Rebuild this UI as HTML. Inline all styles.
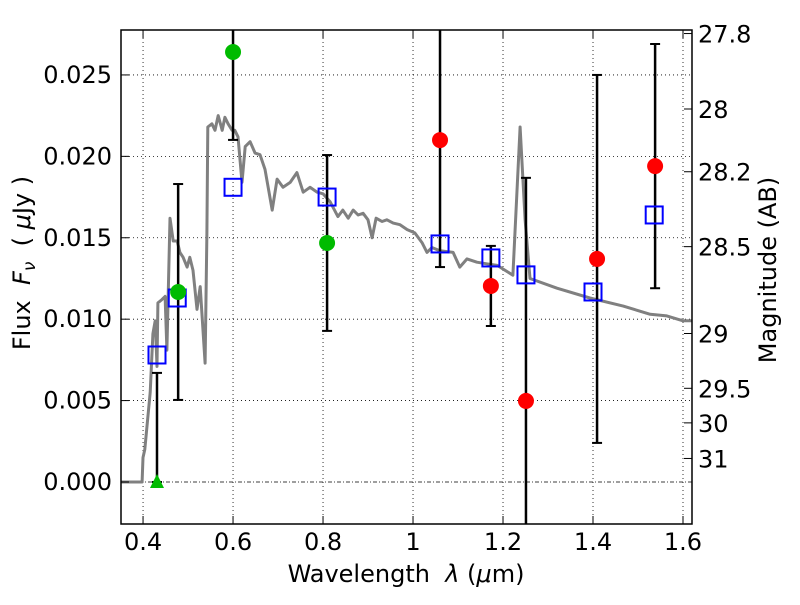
<!DOCTYPE html>
<html><head><meta charset="utf-8"><style>
body{margin:0;background:#fff}
svg{font-family:"DejaVu Sans","Liberation Sans",sans-serif}
</style></head><body>
<svg id="chart" width="800" height="600" xmlns="http://www.w3.org/2000/svg">
<defs><clipPath id="plotclip"><rect x="121" y="30" width="571" height="494"/></clipPath></defs>
</svg>
<script>
const modelLambda=[0.351,0.398,0.400,0.404,0.416,0.422,0.427,0.431,0.433,0.442,0.449,0.453,0.460,0.467,0.476,0.482,0.489,0.498,0.504,0.511,0.520,0.527,0.538,0.542,0.544,0.553,0.560,0.567,0.576,0.582,0.589,0.598,0.604,0.611,0.620,0.627,0.638,0.649,0.660,0.671,0.687,0.698,0.711,0.727,0.742,0.756,0.771,0.787,0.800,0.816,0.833,0.844,0.856,0.867,0.878,0.889,0.900,0.909,0.918,0.931,0.942,0.956,0.971,0.987,1.004,1.020,1.031,1.042,1.060,1.089,1.104,1.120,1.142,1.164,1.187,1.222,1.238,1.249,1.260,1.320,1.393,1.467,1.527,1.564,1.600,1.620];
const modelFlux=[0,0,0.0015,0.0020,0.0055,0.0091,0.0099,0.0071,0.0110,0.0112,0.0114,0.0081,0.0162,0.0148,0.0148,0.0141,0.0138,0.0132,0.0138,0.0130,0.0106,0.0120,0.0073,0.0153,0.0218,0.0220,0.0216,0.0225,0.0216,0.0224,0.0220,0.0216,0.0216,0.0212,0.0184,0.0206,0.0209,0.0202,0.0201,0.0192,0.0167,0.0186,0.0181,0.0184,0.0190,0.0178,0.0181,0.0178,0.0177,0.0172,0.0163,0.0167,0.0162,0.0167,0.0164,0.0165,0.0161,0.0150,0.0162,0.0160,0.0161,0.0159,0.0158,0.0155,0.0153,0.0147,0.0141,0.0144,0.0142,0.0141,0.0132,0.0137,0.0135,0.0134,0.0133,0.0127,0.0218,0.0161,0.0125,0.0119,0.0113,0.0108,0.0103,0.0102,0.0099,0.0099];
const synthLambda=[0.431,0.476,0.600,0.809,1.060,1.173,1.251,1.400,1.536];
const synthFlux=[0.0078,0.0113,0.0181,0.0175,0.01462,0.01376,0.01272,0.01167,0.0164];
const greenLambda=[0.478,0.600,0.809];
const greenFlux=[0.01167,0.02641,0.01468];
const greenErr=[0.00663,0.0054,0.0054];
const redLambda=[1.060,1.173,1.251,1.409,1.538];
const redFlux=[0.0210,0.01204,0.00498,0.0137,0.0194];
const redErr=[0.0078,0.00246,0.0137,0.0113,0.0075];
const limitLambda=[0.431];
const limitFlux=[0.0];
const limitUpper=[0.0067];
const xTicks=[0.4,0.6,0.8,1.0,1.2,1.4,1.6];
const xTickLabels=["0.4","0.6","0.8","1","1.2","1.4","1.6"];
const yTicks=[0,0.005,0.010,0.015,0.020,0.025];
const yTickLabels=["0.000","0.005","0.010","0.015","0.020","0.025"];
const magTicks=[27.8,28,28.2,28.5,29,29.5,30,31];
const magTickLabels=["27.8","28","28.2","28.5","29","29.5","30","31"];

const L=121,R=692,T=30,B=524;
const xmin=0.351,xmax=1.620,ymin=-0.00258,ymax=0.02776;
const X=v=>L+(v-xmin)/(xmax-xmin)*(R-L);
const Y=v=>B-(v-ymin)/(ymax-ymin)*(B-T);
const magToFlux=m=>Math.pow(10,(23.9-m)/2.5);
const svg=document.getElementById('chart');
const NS='http://www.w3.org/2000/svg';
function mk(tag,attrs,parent){const e=document.createElementNS(NS,tag);for(const k in attrs)e.setAttribute(k,attrs[k]);(parent||svg).appendChild(e);return e;}

const plot=mk('g',{'clip-path':'url(#plotclip)'});



const grid=mk('g',{},plot);


xTicks.forEach(t=>{mk('line',{x1:X(t),x2:X(t),y1:T,y2:B,stroke:'#000','stroke-width':0.8,'stroke-dasharray':'1,3'},grid);});
yTicks.forEach(t=>{if(t!==0)mk('line',{x1:L,x2:R,y1:Y(t),y2:Y(t),stroke:'#000','stroke-width':0.8,'stroke-dasharray':'1,3'},grid);});
const zl=mk('line',{x1:L,x2:R,y1:Y(0),y2:Y(0),stroke:'#000','stroke-width':0.8,'stroke-dasharray':'4,2,1,2'},plot);



let d='';modelLambda.forEach((l,i)=>{d+=(i?'L':'M')+X(l).toFixed(1)+','+Y(modelFlux[i]).toFixed(1);});
const mp=mk('path',{d:d,fill:'none',stroke:'#808080','stroke-width':3,'stroke-linejoin':'round'},plot);



function errbar(x,lo,hi){
  mk('line',{x1:X(x),x2:X(x),y1:Y(lo),y2:Y(hi),stroke:'#000','stroke-width':2.5},plot);
  [lo,hi].forEach(v=>{if(v>ymin&&v<ymax)mk('line',{x1:X(x)-5,x2:X(x)+5,y1:Y(v),y2:Y(v),stroke:'#000','stroke-width':2},plot);});
}
limitLambda.forEach((l,i)=>errbar(l,limitFlux[i],limitUpper[i]));
greenLambda.forEach((l,i)=>errbar(l,greenFlux[i]-greenErr[i],greenFlux[i]+greenErr[i]));
redLambda.forEach((l,i)=>errbar(l,redFlux[i]-redErr[i],redFlux[i]+redErr[i]));

synthLambda.forEach((l,i)=>{
  const r=mk('rect',{x:X(l)-8.5,y:Y(synthFlux[i])-8.5,width:17,height:17,fill:'none',stroke:'#0000ff','stroke-width':2},plot);
  
  
});
greenLambda.forEach((l,i)=>{
  const c=mk('circle',{cx:X(l),cy:Y(greenFlux[i]),r:8,fill:'#00bb00'},plot);
  
  
});
redLambda.forEach((l,i)=>{
  const c=mk('circle',{cx:X(l),cy:Y(redFlux[i]),r:8,fill:'#ff0000'},plot);
  
  
});
limitLambda.forEach((l,i)=>{
  const x=X(l),y=Y(limitFlux[i]);
  const p=mk('polygon',{points:`${x},${y-8} ${x-7},${y+6} ${x+7},${y+6}`,fill:'#00bb00'},plot);
  
  
});

const fr=mk('rect',{x:L,y:T,width:R-L,height:B-T,fill:'none',stroke:'#000','stroke-width':1.5});



xTicks.forEach((t,i)=>{
  mk('line',{x1:X(t),x2:X(t),y1:B,y2:B-8,stroke:'#000'});
  mk('line',{x1:X(t),x2:X(t),y1:T,y2:T+8,stroke:'#000'});
  const tx=mk('text',{x:X(t),y:550,'text-anchor':'middle','font-size':24});
  tx.textContent=xTickLabels[i];
  
  
});
yTicks.forEach((t,i)=>{
  mk('line',{x1:L,x2:L+8,y1:Y(t),y2:Y(t),stroke:'#000'});
  const tx=mk('text',{x:L-9,y:Y(t)+8,'text-anchor':'end','font-size':24});
  tx.textContent=yTickLabels[i];
  
  
});
magTicks.forEach((m,i)=>{
  const y=Y(magToFlux(m));
  mk('line',{x1:R,x2:R-8,y1:y,y2:y,stroke:'#000'});
  const tx=mk('text',{x:R+6,y:y+9,'text-anchor':'start','font-size':24});
  tx.textContent=magTickLabels[i];
  
  
});

const xt=mk('text',{x:406,y:582,'text-anchor':'middle','font-size':24});
xt.innerHTML='Wavelength&#160;&#160;<tspan font-style="italic">λ</tspan> (<tspan font-style="italic">μ</tspan>m)';


const yt=mk('text',{x:0,y:0,'text-anchor':'middle','font-size':24,transform:'translate(30,263) rotate(-90)'});
yt.innerHTML='Flux&#160;&#160;<tspan font-style="italic">F</tspan><tspan font-style="italic" font-size="17" dy="5">ν</tspan><tspan dy="-5">&#160;&#160;( </tspan><tspan font-style="italic">μ</tspan>Jy )';


const rt=mk('text',{x:0,y:0,'text-anchor':'middle','font-size':24,transform:'translate(776,270) rotate(-90)'});
rt.textContent='Magnitude (AB)';


</script>
</body></html>
